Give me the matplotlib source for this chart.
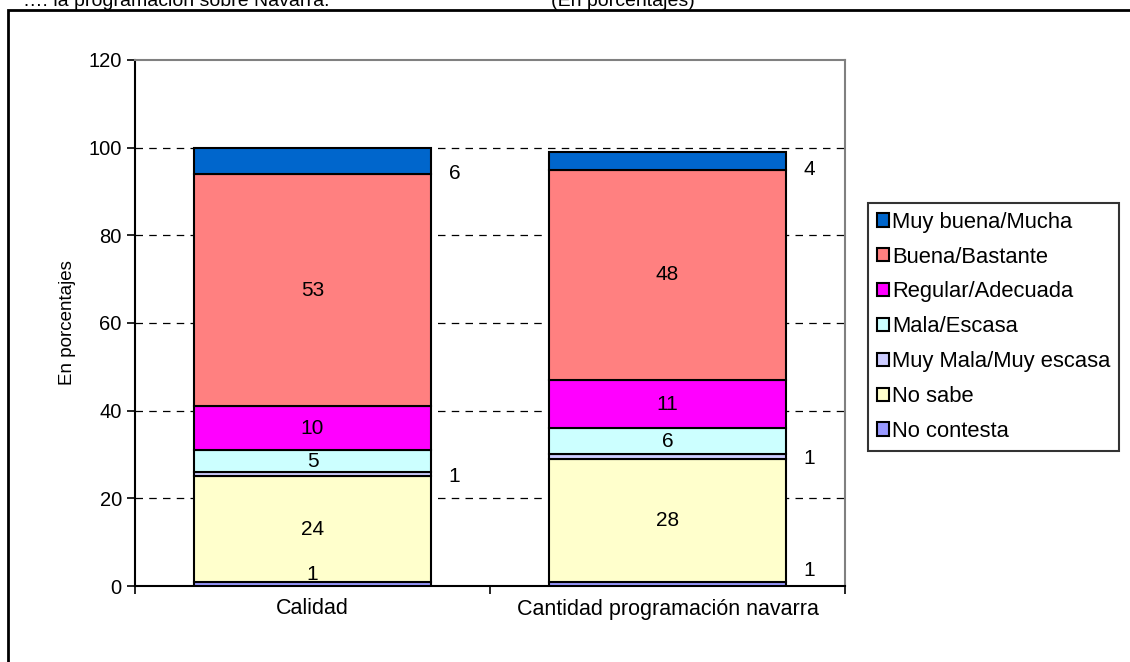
import numpy as np
import matplotlib
matplotlib.use("Agg")
import matplotlib.pyplot as plt
from matplotlib.patches import Rectangle

plt.rcParams['font.family'] = ['Liberation Sans', 'DejaVu Sans']

categories = ["Calidad", "Cantidad programación navarra"]
series = ["No contesta", "No sabe", "Muy Mala/Muy escasa", "Mala/Escasa",
          "Regular/Adecuada", "Buena/Bastante", "Muy buena/Mucha"]
values = {
    "No contesta":         [1, 1],
    "No sabe":             [24, 28],
    "Muy Mala/Muy escasa": [1, 1],
    "Mala/Escasa":         [5, 6],
    "Regular/Adecuada":    [10, 11],
    "Buena/Bastante":      [53, 48],
    "Muy buena/Mucha":     [6, 4],
}
colors = {
    "No contesta": "#9999FF",
    "No sabe": "#FFFFCC",
    "Muy Mala/Muy escasa": "#CCCCFF",
    "Mala/Escasa": "#CCFFFF",
    "Regular/Adecuada": "#FF00FF",
    "Buena/Bastante": "#FF8080",
    "Muy buena/Mucha": "#0066CC",
}
# labels that Excel put beside the bar instead of inside
outside = {("Muy Mala/Muy escasa", 0), ("Muy Mala/Muy escasa", 1),
           ("Muy buena/Mucha", 0), ("Muy buena/Mucha", 1),
           ("No contesta", 1)}

W, H = 1130, 662
fig = plt.figure(figsize=(W / 100, H / 100), dpi=100)
ax = fig.add_axes([135 / W, 1 - 586 / H, (845 - 135) / W, (586 - 60) / H])

x = np.arange(len(categories))
width = 0.67
bottom = np.zeros(len(categories))
for s in series:
    v = np.array(values[s], dtype=float)
    ax.bar(x, v, width, bottom=bottom, color=colors[s], edgecolor="black",
           linewidth=1.5, label=s, zorder=3)
    for i in range(len(categories)):
        if (s, i) in outside:
            ax.text(x[i] + width / 2 + 0.065, max(bottom[i], 3.6), f"{v[i]:.0f}",
                    ha="center", va="center", fontsize=15, zorder=6)
        else:
            ax.text(x[i], max(bottom[i] + v[i] / 2, 2.6), f"{v[i]:.0f}",
                    ha="center", va="center", fontsize=15, zorder=6)
    bottom += v

ax.set_xlim(-0.5, 1.5)
ax.set_ylim(0, 120)
ax.set_yticks(range(0, 121, 20))
ax.set_xticks(x)
ax.set_xticklabels(categories, fontsize=15.5)
ax.tick_params(axis="y", labelsize=14.5, direction="out", length=6, width=1.2)
ax.tick_params(axis="x", length=0, pad=9)
ax.set_xticks([-0.5, 0.5, 1.5], minor=True)
ax.tick_params(axis="x", which="minor", length=6, width=1.2)
ax.set_ylabel("En porcentajes", fontsize=13.5, labelpad=9)

for yv in range(20, 120, 20):
    ax.axhline(yv, color="black", linestyle=(0, (6, 5)), linewidth=0.9, zorder=1)

ax.spines["left"].set_linewidth(1.5)
ax.spines["bottom"].set_linewidth(1.5)
ax.spines["top"].set_color("#808080")
ax.spines["right"].set_color("#808080")
ax.spines["top"].set_linewidth(1.5)
ax.spines["right"].set_linewidth(1.5)

handles, labels = ax.get_legend_handles_labels()
leg = fig.legend(handles[::-1], labels[::-1], loc="upper left",
                 bbox_to_anchor=(868 / W, 1 - 203 / H), fontsize=15.8,
                 frameon=True, fancybox=False, edgecolor="black",
                 handlelength=0.55, handleheight=0.55, handletextpad=0.15,
                 labelspacing=0.63, borderpad=0.4, borderaxespad=0)
leg.get_frame().set_linewidth(1.5)

# outer frame of the original document
fig.patches.append(Rectangle((8 / W, -0.05), 1.2, 1 - 10 / H + 0.05,
                             transform=fig.transFigure, fill=False,
                             edgecolor="black", linewidth=2))

# cut-off caption above the frame
fig.text(23 / W, 1 - 6 / H, "…: la programación sobre Navarra.”",
         fontsize=14, ha="left", va="baseline")
fig.text(551 / W, 1 - 6 / H, "(En porcentajes)",
         fontsize=14, ha="left", va="baseline")

fig.savefig("out.png", dpi=100)
